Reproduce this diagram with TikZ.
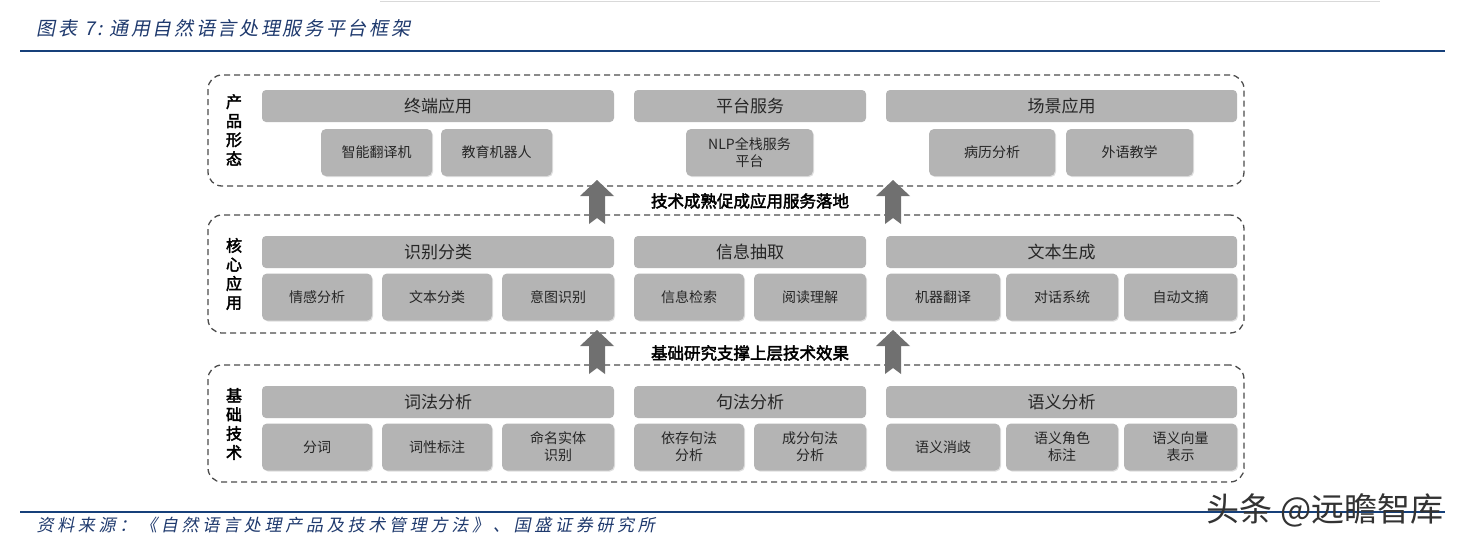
\documentclass[tikz,border=0pt]{standalone}
\usepackage{fontspec}
\usetikzlibrary{shadows}
\setmainfont{Noto Sans CJK SC}
\newfontfamily\cjki[FakeSlant=0.2,LetterSpace=14]{Noto Sans CJK SC}
\newfontfamily\cjks[FakeSlant=0.2,LetterSpace=22]{Noto Sans CJK SC}
\newfontfamily\cjkb[FakeBold=2.5]{Noto Sans CJK SC}
\definecolor{bx}{HTML}{B4B4B4}
\definecolor{ttl}{HTML}{1F3A6E}
\definecolor{ln}{HTML}{16407A}
\definecolor{arr}{HTML}{707070}
\begin{document}
\begin{tikzpicture}[x=1pt,y=-1pt,
  hdr/.style={fill=bx,rounded corners=4pt,minimum height=32pt,inner sep=0pt,font=\fontsize{17}{19}\selectfont,text=black!85},
  sub/.style={fill=bx,rounded corners=5pt,minimum height=47pt,inner sep=0pt,font=\fontsize{14}{17}\selectfont,align=center,text=black!85,drop shadow={opacity=0.25,shadow xshift=1pt,shadow yshift=-1pt}},
  grp/.style={draw=black!70,dashed,line width=1.3pt,dash pattern=on 6pt off 4pt,rounded corners=14pt,minimum width=1036pt,inner sep=0pt},
  side/.style={font=\cjkb\fontsize{16}{19}\selectfont,align=center},
  mid/.style={font=\cjkb\fontsize{16.5}{18}\selectfont},
  arrw/.style={fill=arr}]
\useasboundingbox (0,0) rectangle (1461,544);
\fill[white] (0,0) rectangle (1461,544);
\draw[black!15] (380,1) -- (1380,1);
\node[anchor=west,font=\cjki\fontsize{19}{21}\selectfont,text=ttl] (title) at (33,28) {图表 7:\ 通用自然语言处理服务平台框架};
\draw[ln,line width=2.5pt] (20,51) -- (1445,51);
% groups
\node[grp,minimum height=111pt] (g1) at (726,130.5) {};
\node[grp,minimum height=118pt] (g2) at (726,274) {};
\node[grp,minimum height=117pt] (g3) at (726,423.5) {};
\node[side] (s1) at (234,130) {产\\品\\形\\态};
\node[side] (s2) at (234,274) {核\\心\\应\\用};
\node[side] (s3) at (234,424) {基\\础\\技\\术};
% row1
\node[hdr,minimum width=352pt] (h11) at (438,106) {终端应用};
\node[hdr,minimum width=232pt] (h12) at (750,106) {平台服务};
\node[hdr,minimum width=351pt] (h13) at (1061.5,106) {场景应用};
\node[sub,minimum width=111pt] (a1) at (376.5,152.5) {智能翻译机};
\node[sub,minimum width=111pt] (a2) at (496.5,152.5) {教育机器人};
\node[sub,minimum width=127pt] (a3) at (749.5,152.5) {NLP全栈服务\\平台};
\node[sub,minimum width=126pt] (a4) at (992,152.5) {病历分析};
\node[sub,minimum width=127pt] (a5) at (1129.5,152.5) {外语教学};
% row2
\node[hdr,minimum width=352pt] (h21) at (438,252) {识别分类};
\node[hdr,minimum width=232pt] (h22) at (750,252) {信息抽取};
\node[hdr,minimum width=351pt] (h23) at (1061.5,252) {文本生成};
\node[sub,minimum width=110pt] (b1) at (317,297) {情感分析};
\node[sub,minimum width=110pt] (b2) at (437,297) {文本分类};
\node[sub,minimum width=112pt] (b3) at (558,297) {意图识别};
\node[sub,minimum width=110pt] (b4) at (689,297) {信息检索};
\node[sub,minimum width=112pt] (b5) at (810,297) {阅读理解};
\node[sub,minimum width=114pt] (b6) at (943,297) {机器翻译};
\node[sub,minimum width=112pt] (b7) at (1062,297) {对话系统};
\node[sub,minimum width=113pt] (b8) at (1180.5,297) {自动文摘};
% row3
\node[hdr,minimum width=352pt] (h31) at (438,402) {词法分析};
\node[hdr,minimum width=232pt] (h32) at (750,402) {句法分析};
\node[hdr,minimum width=351pt] (h33) at (1061.5,402) {语义分析};
\node[sub,minimum width=110pt] (c1) at (317,447) {分词};
\node[sub,minimum width=110pt] (c2) at (437,447) {词性标注};
\node[sub,minimum width=112pt] (c3) at (558,447) {命名实体\\识别};
\node[sub,minimum width=110pt] (c4) at (689,447) {依存句法\\分析};
\node[sub,minimum width=112pt] (c5) at (810,447) {成分句法\\分析};
\node[sub,minimum width=114pt] (c6) at (943,447) {语义消歧};
\node[sub,minimum width=112pt] (c7) at (1062,447) {语义角色\\标注};
\node[sub,minimum width=113pt] (c8) at (1180.5,447) {语义向量\\表示};
% arrows
\foreach \cx/\ty in {597/180,893/180,597/330,893/330}{
  \fill[arrw] (\cx,\ty) -- (\cx+17,\ty+16) -- (\cx+8,\ty+16) -- (\cx+8,\ty+44) -- (\cx,\ty+38) -- (\cx-8,\ty+44) -- (\cx-8,\ty+16) -- (\cx-17,\ty+16) -- cycle;
}
\node[mid] (m1) at (750,201) {技术成熟促成应用服务落地};
\node[mid] (m2) at (750,353) {基础研究支撑上层技术效果};
% bottom
\draw[ln,line width=2pt] (20,512) -- (1445,512);
\node[anchor=west,font=\cjks\fontsize{17}{19}\selectfont,text=ttl] (src) at (33,525) {资料来源：《自然语言处理产品及技术管理方法》、国盛证券研究所};
\node[anchor=east,font=\fontsize{33}{35}\selectfont,text=black!80] (wm) at (1447,510) {头条 @远瞻智库};
\end{tikzpicture}
\end{document}
